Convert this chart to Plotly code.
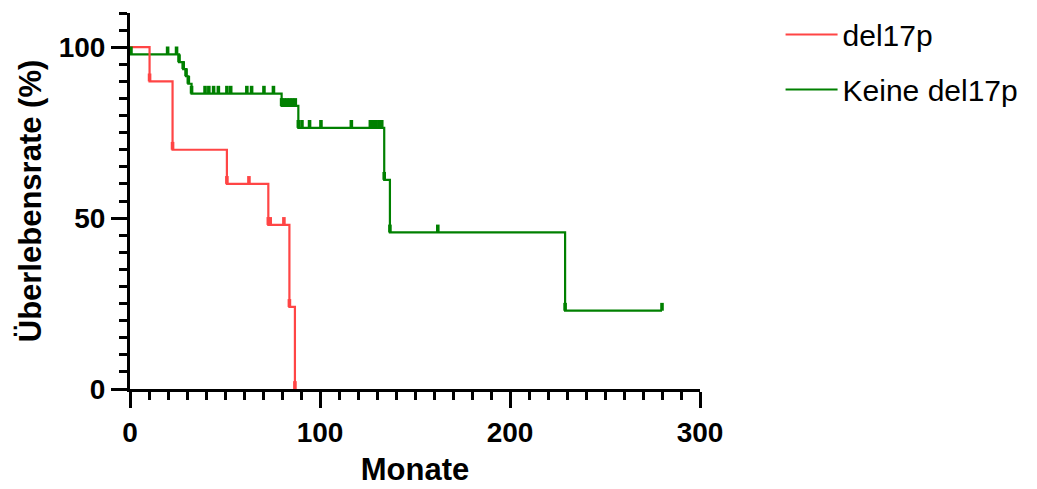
import plotly.graph_objects as go

# ---- data (Kaplan-Meier style survival curves) ----
series_names = ["del17p", "Keine del17p"]

red_event_months = [10.3, 22.4, 51.0, 72.8, 83.9, 86.8]
red_event_survival = [90.0, 70.0, 60.0, 48.0, 24.0, 0.0]
red_censored_months = [62.6, 73.8, 81.0]

green_event_months = [0.5, 25.8, 28.0, 29.5, 30.7, 32.4, 79.8, 88.6, 133.8, 136.8, 229.0]
green_event_survival = [97.9, 95.6, 93.6, 91.5, 89.3, 86.4, 82.8, 76.4, 61.2, 45.8, 22.9]
green_censored_months = [19.8, 24.5, 39.5, 41.5, 44.0, 46.5, 51.0, 53.0, 61.5, 64.0,
                         70.5, 75.5, 81.0, 82.5, 84.0, 85.5, 87.0, 90.5, 94.5, 100.5,
                         116.5, 126.5, 128.0, 129.5, 131.0, 132.5, 162.0, 280.0]

x_tick_values = [0, 100, 200, 300]
y_tick_values = [0, 50, 100]

RED = "#FF4545"
GREEN = "#008000"
FONT = "Liberation Sans, Arial, sans-serif"


def step_xy(ev_t, ev_s, cens_t):
    x = [0.0] + list(ev_t)
    y = [100.0] + list(ev_s)
    end = max(cens_t) if cens_t else x[-1]
    if end > x[-1]:
        x.append(end)
        y.append(y[-1])
    return x, y


def level_at(t, ev_t, ev_s):
    s = 100.0
    for et, es in zip(ev_t, ev_s):
        if et <= t:
            s = es
    return s


def tick_xy(ev_t, ev_s, cens_t):
    xs = list(ev_t) + list(cens_t)
    ys = list(ev_s) + [level_at(c, ev_t, ev_s) for c in cens_t]
    return xs, ys


fig = go.Figure()

groups = [
    (series_names[1], GREEN, green_event_months, green_event_survival, green_censored_months, 2),
    (series_names[0], RED, red_event_months, red_event_survival, red_censored_months, 1),
]

for name, color, ev_t, ev_s, cens_t, rank in groups:
    sx, sy = step_xy(ev_t, ev_s, cens_t)
    fig.add_trace(go.Scatter(
        x=sx, y=sy, name=name, mode="lines", legendgroup=name,
        line=dict(color=color, width=2.2, shape="hv"),
        legendrank=rank, hoverinfo="skip",
    ))

for name, color, ev_t, ev_s, cens_t, rank in groups:
    tx, ty = tick_xy(ev_t, ev_s, cens_t)
    fig.add_trace(go.Scatter(
        x=tx, y=ty, mode="markers", showlegend=False, legendgroup=name,
        marker=dict(size=1, color=color, opacity=0),
        error_y=dict(type="constant", value=2.3, valueminus=0, symmetric=False,
                     color=color, thickness=3.6, width=0),
        cliponaxis=False, hoverinfo="skip",
    ))

axis_common = dict(
    showline=True, linewidth=3, linecolor="black",
    ticks="outside", ticklen=16, tickwidth=3, tickcolor="black",
    showgrid=False, zeroline=False,
    tickfont=dict(family=FONT, size=28, color="black", weight="bold"),
)

fig.update_layout(
    width=1037, height=489,
    margin=dict(l=122, r=345, t=5, b=108, autoexpand=False),
    plot_bgcolor="white", paper_bgcolor="white",
    xaxis=dict(range=[0, 300], tickvals=x_tick_values, automargin=False,
               minor=dict(dtick=10, tick0=0, ticklen=8, tickwidth=3,
                          tickcolor="black", ticks="outside"),
               title=dict(text="Monate", standoff=12,
                          font=dict(family=FONT, size=31, color="black", weight="bold")),
               **axis_common),
    yaxis=dict(range=[0, 110], tickvals=y_tick_values, automargin=True,
               minor=dict(dtick=5, tick0=0, ticklen=8, tickwidth=3,
                          tickcolor="black", ticks="outside"),
               title=dict(text="Überlebensrate (%)", standoff=8,
                          font=dict(family=FONT, size=31, color="black", weight="bold")),
               **axis_common),
    legend=dict(xref="container", yref="container", x=0.745, y=0.999,
                xanchor="left", yanchor="top",
                traceorder="grouped", tracegroupgap=13,
                font=dict(family=FONT, size=30, color="black"),
                itemwidth=52,
                bgcolor="rgba(0,0,0,0)"),
    showlegend=True,
)

fig.write_html("out.html")
